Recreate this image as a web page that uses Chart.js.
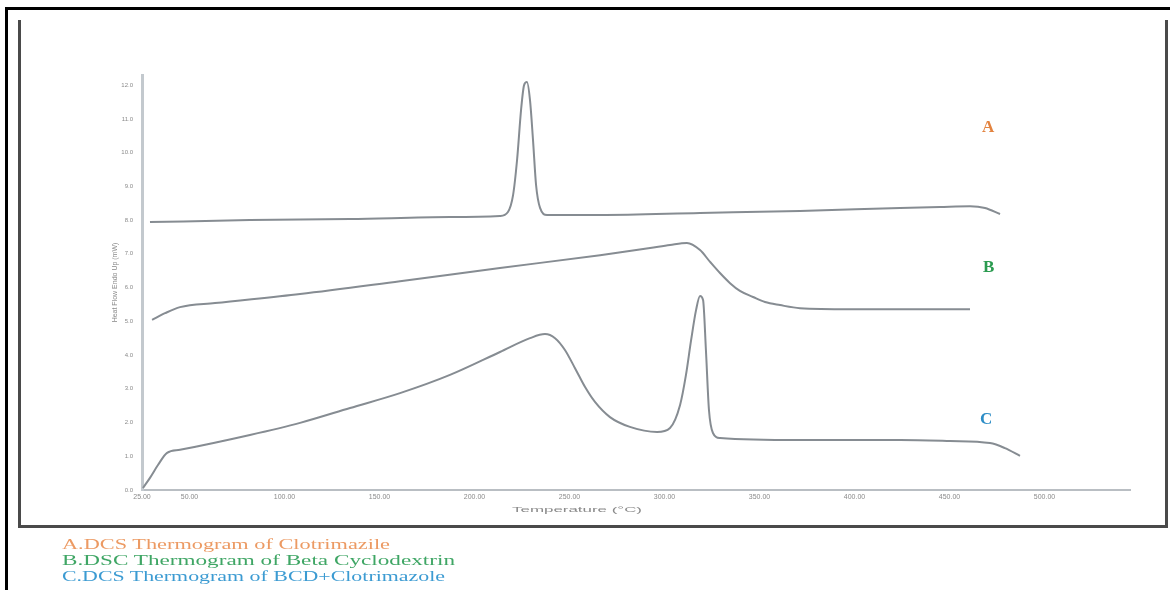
<!DOCTYPE html>
<html>
<head>
<meta charset="utf-8">
<script src="https://cdn.jsdelivr.net/npm/chart.js@4.4.1/dist/chart.umd.min.js"></script>
<style>
    body { margin: 0; background: #fff; width: 1170px; height: 590px; overflow: hidden; position: relative; }
    #chart { position: absolute; left: 0; top: 0; }
    .frame-top { position: absolute; left: 5px; top: 7px; width: 1165px; height: 3px; background: #000; }
    .frame-left { position: absolute; left: 5px; top: 7px; width: 3px; height: 583px; background: #000; }
    .box { position: absolute; left: 18px; top: 20px; width: 1144px; height: 505px; border: 3px solid #4a4a4a; border-top: none; }
    .tag { position: absolute; font-family: "Liberation Serif", serif; font-weight: bold; font-size: 17px; }
    .legend { position: absolute; left: 62px; font-family: "Liberation Serif", serif; font-size: 15px; white-space: nowrap; transform-origin: left center; }
    .xtitle { position: absolute; left: 512px; top: 505px; font-family: "Liberation Sans", sans-serif; font-size: 8px; color: #8a8a8a; white-space: nowrap; transform-origin: left center; }
</style>
</head>
<body>
<canvas id="chart" width="1170" height="590"></canvas>
<div class="frame-top"></div>
<div class="frame-left"></div>
<div class="box"></div>
<div class="xtitle" data-w="130">Temperature (°C)</div>
<div class="tag" style="left:982px; top:117px; color:#e3833f;">A</div>
<div class="tag" style="left:983px; top:257px; color:#2b9b50;">B</div>
<div class="tag" style="left:980px; top:409px; color:#2d8dc6;">C</div>
<div class="legend" style="top:536px; color:#ec9a63;" data-w="328">A.DCS Thermogram of Clotrimazile</div>
<div class="legend" style="top:552px; color:#3fa665;" data-w="393">B.DSC Thermogram of Beta Cyclodextrin</div>
<div class="legend" style="top:568px; color:#3c9bd2;" data-w="383">C.DCS Thermogram of BCD+Clotrimazole</div>
<script>
// x ticks (temperature) and y ticks (heat flow)
let xTicks = [25, 50, 100, 150, 200, 250, 300, 350, 400, 450, 500];
let yTicks = [0, 1, 2, 3, 4, 5, 6, 7, 8, 9, 10, 11, 12];

// A - clotrimazole
let tempA = [29.2, 81.8, 134.5, 187.1, 213.4, 217.6, 220.3, 222.4, 224.5, 226.1, 227.6, 229.2, 230.8, 232.4, 234.5, 238.2, 266.1, 318.7, 371.3, 424.0, 445.0, 460.8, 468.7, 476.6];
let heatA = [7.94, 8.00, 8.03, 8.09, 8.12, 8.24, 8.74, 9.78, 11.26, 12.00, 12.09, 11.56, 10.37, 9.04, 8.36, 8.15, 8.15, 8.21, 8.27, 8.36, 8.39, 8.41, 8.36, 8.18];

// B - beta cyclodextrin
let tempB = [30.3, 37.1, 45.0, 63.4, 108.2, 160.8, 213.4, 266.1, 292.4, 302.9, 311.8, 318.7, 324.0, 329.2, 334.5, 339.7, 346.6, 352.9, 360.8, 371.3, 397.6, 424.0, 460.8];
let heatB = [5.04, 5.24, 5.42, 5.54, 5.81, 6.19, 6.58, 6.96, 7.17, 7.26, 7.32, 7.11, 6.76, 6.43, 6.13, 5.90, 5.72, 5.57, 5.48, 5.39, 5.36, 5.36, 5.36];

// C - BCD + clotrimazole
let tempC = [25.5, 29.2, 33.4, 38.2, 45.0, 81.8, 108.2, 134.5, 160.8, 187.1, 213.4, 229.2, 237.1, 242.4, 247.6, 252.9, 258.2, 263.4, 271.3, 281.8, 296.1, 302.9, 308.2, 311.3, 314.0, 316.6, 318.7, 320.3, 321.8, 323.4, 325.5, 329.2, 371.3, 424.0, 450.3, 471.3, 479.2, 487.1];
let heatC = [0.06, 0.36, 0.74, 1.10, 1.19, 1.63, 1.99, 2.43, 2.87, 3.41, 4.09, 4.50, 4.62, 4.50, 4.15, 3.61, 3.05, 2.61, 2.16, 1.87, 1.72, 1.84, 2.52, 3.41, 4.44, 5.33, 5.75, 5.63, 4.15, 2.37, 1.69, 1.54, 1.48, 1.48, 1.45, 1.39, 1.24, 1.01];

function toPoints(xs, ys) {
    return xs.map((x, i) => ({ x: x, y: ys[i] }));
}

function curve(label, xs, ys) {
    return {
        label: label,
        data: toPoints(xs, ys),
        borderColor: '#868c92',
        borderWidth: 2,
        pointRadius: 0,
        cubicInterpolationMode: 'monotone',
        fill: false
    };
}

new Chart(document.getElementById('chart'), {
    type: 'line',
    data: {
        datasets: [
            curve('A', tempA, heatA),
            curve('B', tempB, heatB),
            curve('C', tempC, heatC)
        ]
    },
    options: {
        responsive: false,
        animation: false,
        layout: { padding: { left: 110, right: 40, top: 75, bottom: 70 } },
        plugins: { legend: { display: false }, tooltip: { enabled: false } },
        scales: {
            x: {
                type: 'linear',
                min: 25,
                max: 545,
                afterBuildTicks: (scale) => { scale.ticks = xTicks.map(v => ({ value: v })); },
                afterFit: (scale) => { scale.height = 30; },
                grid: { display: false, drawTicks: false },
                border: { color: '#b9bec3', width: 2 },
                ticks: { color: '#8a8a8a', font: { size: 7 }, padding: 3, maxRotation: 0, callback: (v) => v.toFixed(2) },
                title: { display: false }
            },
            y: {
                type: 'linear',
                min: 0,
                max: 12.3,
                afterBuildTicks: (scale) => { scale.ticks = yTicks.map(v => ({ value: v })); },
                afterFit: (scale) => { scale.width = 32; },
                grid: { display: false },
                border: { color: '#c3c9ce', width: 3 },
                ticks: { color: '#8a8a8a', font: { size: 6 }, padding: 1, callback: (v) => v.toFixed(1) },
                title: { display: true, text: 'Heat Flow Endo Up (mW)', color: '#8a8a8a', font: { size: 7 }, padding: 1 }
            }
        }
    }
});

// stretch the html text lines to the width they take in the figure
document.querySelectorAll('.legend, .xtitle').forEach(el => {
    let w = el.getBoundingClientRect().width;
    el.style.transform = 'scaleX(' + (el.dataset.w / w) + ')';
});
</script>
</body>
</html>
